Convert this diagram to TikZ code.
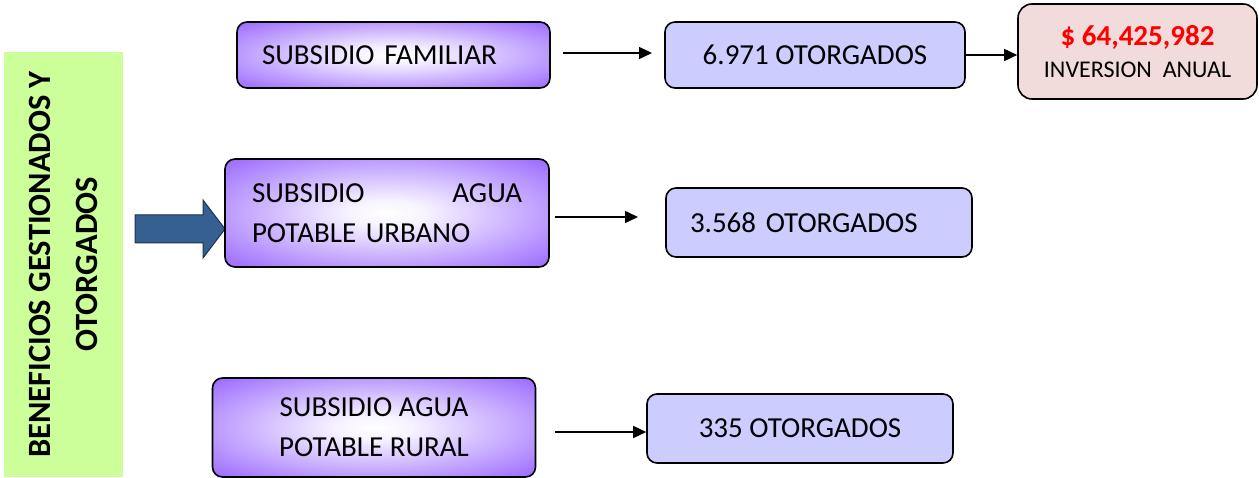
\documentclass[tikz,border=0pt]{standalone}
\usepackage{fontspec}
\setmainfont{Carlito}
\usetikzlibrary{arrows.meta}
\definecolor{purp}{RGB}{153,102,255}
\definecolor{lav}{RGB}{204,204,255}
\definecolor{pinkf}{RGB}{242,220,219}
\definecolor{greenf}{RGB}{204,255,153}
\definecolor{bluef}{RGB}{55,96,146}
\definecolor{blued}{RGB}{30,50,80}
\pgfdeclareradialshading{purpshade}{\pgfpoint{0bp}{0bp}}{color(0bp)=(white); color(6bp)=(white!92!purp); color(36bp)=(purp); color(50bp)=(purp)}
\begin{document}
\begin{tikzpicture}[x=1pt,y=-1pt,
  box/.style={draw=black, line width=1.6pt, rounded corners=10pt, inner sep=0pt, font=\fontsize{29}{40}\selectfont},
  purpbox/.style={box, shading=purpshade},
  lavbox/.style={box, fill=lav},
  arr/.style={line width=1.5pt, -{Triangle[length=13pt,width=12pt]}}]
\useasboundingbox (0,0) rectangle (1259,478);
% title bar
\node[fill=greenf, rotate=90, minimum width=425pt, minimum height=119pt, inner sep=0pt,
      align=center, font=\fontsize{32.5}{47}\selectfont\bfseries] (title) at (63.5,264.5)
      {BENEFICIOS GESTIONADOS Y\\OTORGADOS};
% block arrow
\fill[bluef, draw=blued, line width=1pt] (135,215) -- (203,215) -- (203,200) -- (225,229)
  -- (203,258) -- (203,243) -- (135,243) -- cycle;
% purple boxes
\node[purpbox, minimum width=313pt, minimum height=66pt, inner xsep=25pt, text width=263pt, align=left]
  (sf) at (393.5,55) {SUBSIDIO FAMILIAR};
\node[purpbox, minimum width=324pt, minimum height=108pt, inner xsep=27pt, text width=270pt, align=left]
  (sapu) at (387,213) {\makebox[270pt][s]{SUBSIDIO\hfill AGUA}\\POTABLE URBANO};
\node[purpbox, minimum width=323pt, minimum height=99pt, align=center]
  (sapr) at (374,427.5) {SUBSIDIO AGUA\\POTABLE RURAL};
% lavender boxes
\node[lavbox, minimum width=300pt, minimum height=66pt] (l1) at (815,55) {6.971 OTORGADOS};
\node[lavbox, minimum width=306pt, minimum height=69pt, inner xsep=24pt, text width=258pt, align=left]
  (l2) at (819,222.5) {3.568 OTORGADOS};
\node[lavbox, minimum width=306pt, minimum height=69pt] (l3) at (800,428.5) {335 OTORGADOS};
% investment box
\node[box, fill=pinkf, rounded corners=14pt, minimum width=239pt, minimum height=95pt, align=center,
      font=\fontsize{24}{32}\selectfont] (inv) at (1137.5,51.5)
  {{\fontsize{29}{32}\selectfont\bfseries\color{red}\$ 64,425,982}\\INVERSION\ \ ANUAL};
% connectors
\coordinate (a1s) at (563,53);
\coordinate (a1e) at (652,53);
\coordinate (a3s) at (555,217);
\coordinate (a3e) at (638,217);
\coordinate (a4s) at (555,432);
\draw[arr] (a1s) -- (a1e);
\draw[arr] (l1.east) -- (l1.east -| inv.west);
\draw[arr] (a3s) -- (a3e);
\draw[arr] (a4s) -- (a4s -| l3.west);
\end{tikzpicture}
\end{document}
